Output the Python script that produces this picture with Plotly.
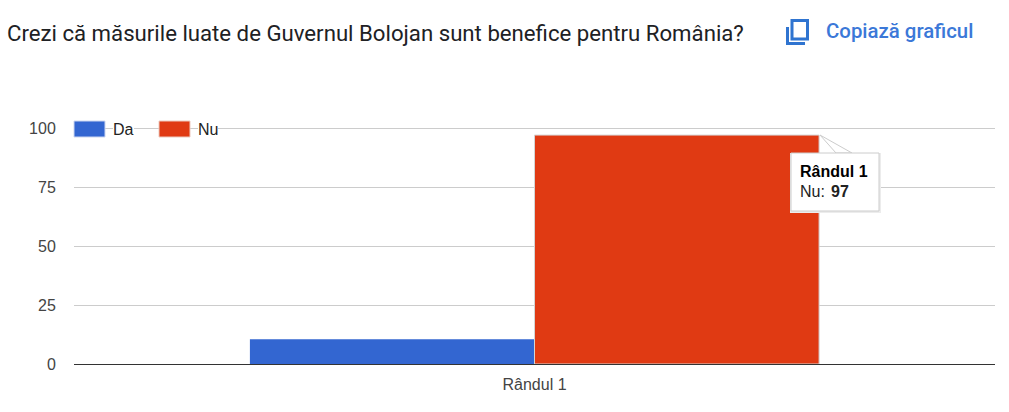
import plotly.graph_objects as go

categories = ["Rândul 1"]
series_names = ["Da", "Nu"]
da_values = [10.5]
nu_values = [97]
y_ticks = [0, 25, 50, 75, 100]
title_text = "Crezi că măsurile luate de Guvernul Bolojan sunt benefice pentru România?"
copy_text = "Copiază graficul"
tooltip_title = "Rândul 1"
tooltip_label = "Nu:"

BLUE = "#3366d1"
RED = "#e03a13"
W, H = 1009, 412
L, R, T, B = 74, 995, 126, 364


def px(x):
    return (x - L) / (R - L)


def py(y):
    return (B - y) / (B - T)


def path(points, close=True):
    s = "M" + " L".join(f"{px(x):.5f},{py(y):.5f}" for x, y in points)
    return s + (" Z" if close else "")


fig = go.Figure()
fig.add_bar(name=series_names[0], x=categories, y=da_values, marker=dict(color=BLUE, line=dict(width=0)))
fig.add_bar(name=series_names[1], x=categories, y=nu_values, marker=dict(color=RED, line=dict(color="#d4d4d4", width=1)))

shapes = []


def rect(x0, y0, x1, y1, fill, line=None, lw=0):
    shapes.append(dict(type="rect", xref="paper", yref="paper", x0=px(x0), x1=px(x1), y0=py(y0), y1=py(y1),
                       fillcolor=fill, line=dict(color=line or fill, width=lw), layer="above"))


# legend swatches
rect(74, 121, 105, 137, BLUE, "#ccd6f0", 1)
rect(159, 121, 190, 137, RED, "#eccabf", 1)

# copy icon
shapes.append(dict(type="path", xref="paper", yref="paper", layer="above",
                   path=path([(792, 20.5), (807.5, 20.5), (807.5, 39), (792, 39)]),
                   line=dict(color="#2f74d0", width=3), fillcolor="rgba(0,0,0,0)"))
shapes.append(dict(type="path", xref="paper", yref="paper", layer="above",
                   path=path([(787.5, 27), (787.5, 43.5), (805, 43.5)], close=False),
                   line=dict(color="#2f74d0", width=3), fillcolor="rgba(0,0,0,0)"))

# tooltip shadow, box and pointer
rect(790, 153, 881, 213, "#ececec")
shapes.append(dict(type="path", xref="paper", yref="paper", layer="above",
                   path=path([(820, 135), (836, 153), (852, 153)]),
                   fillcolor="#ffffff", line=dict(color="#cccccc", width=1)))
rect(791, 153, 879, 211, "#ffffff", "#cccccc", 1)

fig.update_layout(
    width=W, height=H,
    margin=dict(l=L, r=W - R, t=T, b=H - B, pad=0),
    barmode="group", bargap=0.382, bargroupgap=0,
    showlegend=False,
    paper_bgcolor="white", plot_bgcolor="white",
    font=dict(family="Liberation Sans, Arial, sans-serif", size=16, color="#444444"),
    shapes=shapes,
    xaxis=dict(showgrid=False, showline=False, ticks="", zeroline=False, ticklabelstandoff=9,
               tickfont=dict(size=16, color="#444444")),
    yaxis=dict(range=[0, 100.85], tickvals=y_ticks, ticktext=[str(v) for v in y_ticks],
               gridcolor="#cccccc", gridwidth=1, zeroline=True, zerolinecolor="#333333", zerolinewidth=1,
               showline=False, ticks="outside", ticklen=14, tickcolor="rgba(0,0,0,0)",
               tickfont=dict(size=16, color="#444444")),
)


def note(x, y, text, size=16, color="#444444", family="Liberation Sans, Arial, sans-serif", bg=None, weight=None):
    font = dict(size=size, color=color, family=family)
    if weight:
        font["weight"] = weight
    fig.add_annotation(xref="paper", yref="paper", x=px(x), y=py(y), text=text, showarrow=False,
                       xanchor="left", yanchor="middle", borderpad=0, borderwidth=0,
                       bgcolor=bg or "rgba(0,0,0,0)", font=font)


note(113, 129, series_names[0], color="#222222", bg="#ffffff")
note(198, 129, series_names[1], color="#222222", bg="#ffffff")
note(7, 33, title_text, size=22.2, color="#202124", family="Roboto, sans-serif")
note(826, 31, copy_text, size=20.4, color="#3b78d8", family="Roboto, sans-serif", weight=500)
note(800, 171, f"<b>{tooltip_title}</b>", color="#000000")
note(800, 191, tooltip_label, color="#222222")
note(831, 191, f"<b>{nu_values[0]}</b>", color="#222222")

fig.write_html("out.html", config=dict(displayModeBar=False),
               post_script="document.body.style.margin='0';document.body.style.overflow='hidden';")
